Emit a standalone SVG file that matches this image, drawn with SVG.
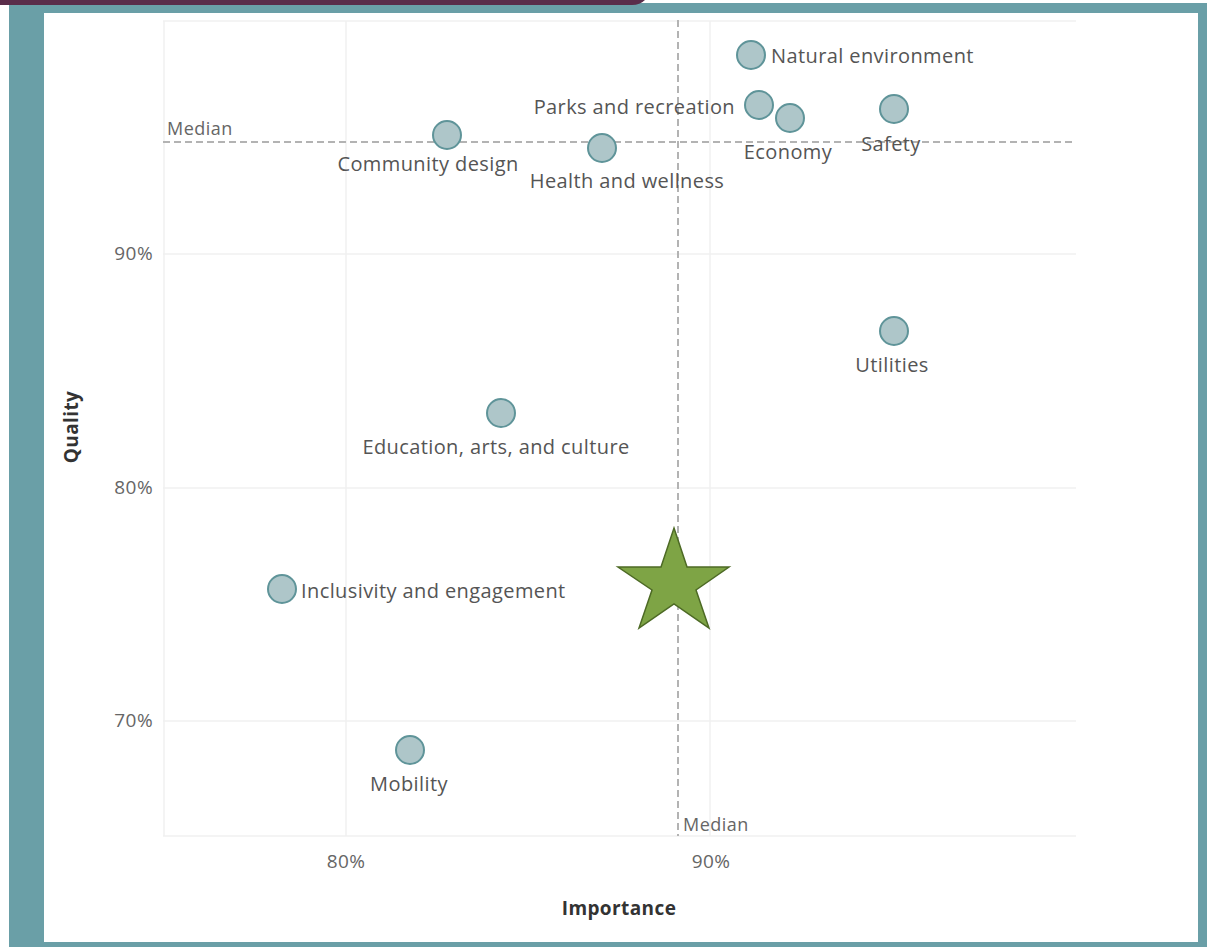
<svg xmlns="http://www.w3.org/2000/svg" width="1207" height="947" viewBox="0 0 1207 947">
<style>
.lbl{font-family:"Open Sans","Liberation Sans",sans-serif;font-size:20px;letter-spacing:0.4px;fill:#555}
.tick{font-family:"Open Sans","Liberation Sans",sans-serif;font-size:19px;letter-spacing:0.4px;fill:#666}
.med{font-family:"Open Sans","Liberation Sans",sans-serif;font-size:18px;letter-spacing:0.5px;fill:#666}
.ax{font-family:"Open Sans","Liberation Sans",sans-serif;font-size:19px;letter-spacing:0.4px;font-weight:bold;fill:#333}
.dot{fill:#aec6c9;stroke:#5f9499;stroke-width:2}
.grid{stroke:#f0f0f0;stroke-width:1.5;fill:none}
.mline{stroke:#b3b3b3;stroke-width:2;stroke-dasharray:7,4;fill:none}
</style>
<rect x="0" y="0" width="1207" height="947" fill="#ffffff"/>
<rect x="9" y="3" width="1198" height="944" fill="#6a9fa7"/>
<rect x="44" y="13" width="1154" height="929" fill="#ffffff"/>
<path d="M0,0 H645 Q640,5 632,5 H0 Z" fill="#5a2d4a"/>
<g id="grid">
<line class="grid" x1="163" y1="21" x2="1076" y2="21"/>
<line class="grid" x1="163" y1="254" x2="1076" y2="254"/>
<line class="grid" x1="163" y1="488" x2="1076" y2="488"/>
<line class="grid" x1="163" y1="721" x2="1076" y2="721"/>
<line class="grid" x1="163" y1="836" x2="1076" y2="836"/>
<line class="grid" x1="164" y1="21" x2="164" y2="836"/>
<line class="grid" x1="346" y1="21" x2="346" y2="836"/>
<line class="grid" x1="710" y1="21" x2="710" y2="836"/>
</g>
<g id="medians">
<line class="mline" x1="678" y1="20" x2="678" y2="836"/>
<line class="mline" x1="163" y1="142" x2="1076" y2="142"/>
<text class="med" x="167" y="135">Median</text>
<text class="med" x="683" y="831">Median</text>
</g>
<g id="axes">
<text class="tick" x="153" y="260" text-anchor="end">90%</text>
<text class="tick" x="153" y="494" text-anchor="end">80%</text>
<text class="tick" x="153" y="727" text-anchor="end">70%</text>
<text class="tick" x="346" y="868" text-anchor="middle">80%</text>
<text class="tick" x="711" y="868" text-anchor="middle">90%</text>
<text class="ax" x="619" y="915" text-anchor="middle">Importance</text>
<text class="ax" transform="translate(78,427) rotate(-90)" text-anchor="middle">Quality</text>
</g>
<g id="natural-environment"><circle class="dot" cx="751" cy="55" r="14"/><text class="lbl" x="771" y="63">Natural environment</text></g>
<g id="parks-and-recreation"><circle class="dot" cx="759" cy="105" r="14"/><text class="lbl" x="735" y="114" text-anchor="end">Parks and recreation</text></g>
<g id="economy"><circle class="dot" cx="790" cy="118" r="14"/><text class="lbl" x="788" y="159" text-anchor="middle">Economy</text></g>
<g id="safety"><circle class="dot" cx="894" cy="109" r="14"/><text class="lbl" x="891" y="151" text-anchor="middle">Safety</text></g>
<g id="community-design"><circle class="dot" cx="447" cy="135" r="14"/><text class="lbl" x="428" y="171" text-anchor="middle">Community design</text></g>
<g id="health-and-wellness"><circle class="dot" cx="602" cy="148" r="14"/><text class="lbl" x="627" y="188" text-anchor="middle">Health and wellness</text></g>
<g id="utilities"><circle class="dot" cx="894" cy="331" r="14"/><text class="lbl" x="892" y="372" text-anchor="middle">Utilities</text></g>
<g id="education-arts-culture"><circle class="dot" cx="501" cy="413" r="14"/><text class="lbl" x="496" y="454" text-anchor="middle">Education, arts, and culture</text></g>
<g id="inclusivity-and-engagement"><circle class="dot" cx="282" cy="589" r="14"/><text class="lbl" x="301" y="598">Inclusivity and engagement</text></g>
<g id="mobility"><circle class="dot" cx="410" cy="750" r="14"/><text class="lbl" x="409" y="791" text-anchor="middle">Mobility</text></g>
<g id="star"><polygon points="674,528 687,567 729,567 696,590 709,628 674,604 639,628 652,590 618,567 661,567" fill="#7ea445" stroke="#4d6a25" stroke-width="1.5" stroke-linejoin="miter"/></g>
</svg>
